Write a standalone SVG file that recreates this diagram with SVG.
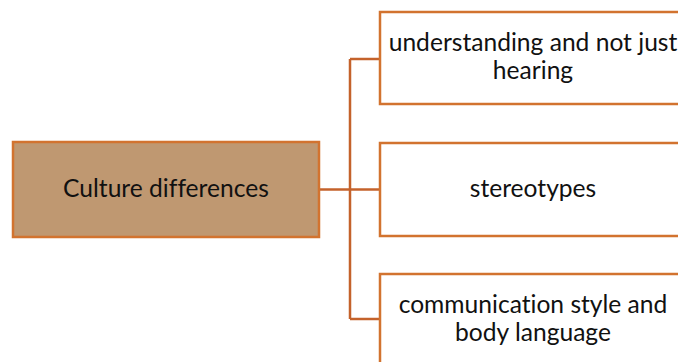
<svg xmlns="http://www.w3.org/2000/svg" width="678" height="362" viewBox="0 0 678 362">
  <style>
    .box { stroke: #D2732F; stroke-width: 2.5; }
    .root { fill: #BF9871; }
    .leaf { fill: #FFFFFF; }
    .label { font-family: Lato, "Open Sans", "Liberation Sans", sans-serif; font-size: 24.6px; fill: #111111; text-anchor: middle; font-variant-ligatures: none; }
    .wire { fill: none; stroke: #C4622B; stroke-width: 2.5; }
  </style>
  <rect width="678" height="362" fill="#FFFFFF"/>

  <g id="connectors">
    <path class="wire" d="M319 189.5 H350"/>
    <path class="wire" d="M350 59 V319"/>
    <path class="wire" d="M350 59 H380"/>
    <path class="wire" d="M350 189.5 H380"/>
    <path class="wire" d="M350 319 H380"/>
  </g>

  <g id="node-culture">
    <rect class="box root" x="13" y="142" width="306" height="95"/>
    <text class="label" x="166" y="197">Culture differences</text>
  </g>

  <g id="node-understanding">
    <rect class="box leaf" x="380" y="12" width="306" height="92"/>
    <text class="label" x="533" y="51">understanding and not just</text>
    <text class="label" x="533" y="79">hearing</text>
  </g>

  <g id="node-stereotypes">
    <rect class="box leaf" x="380" y="143" width="306" height="93"/>
    <text class="label" x="533" y="197">stereotypes</text>
  </g>

  <g id="node-communication">
    <rect class="box leaf" x="380" y="274" width="306" height="95"/>
    <text class="label" x="533" y="313">communication style and</text>
    <text class="label" x="533" y="341">body language</text>
  </g>
</svg>
